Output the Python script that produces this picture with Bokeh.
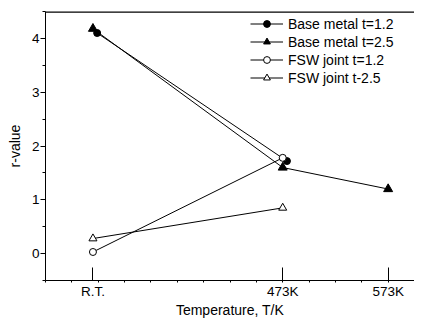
from bokeh.plotting import figure
from bokeh.models import FixedTicker, Span, Legend, LegendItem, Range1d
from bokeh.embed import file_html
from bokeh.resources import INLINE

# Data (temperature in K; R.T. taken as ~293 K)
x_ticks = [293, 473, 573]
x_tick_labels = ["R.T.", "473K", "573K"]

bm12_x = [297, 477]
bm12_y = [4.10, 1.72]

bm25_x = [293, 473, 573]
bm25_y = [4.18, 1.60, 1.20]

fsw12_x = [293, 473]
fsw12_y = [0.03, 1.78]

fsw25_x = [293, 473]
fsw25_y = [0.28, 0.85]

y_ticks = [0, 1, 2, 3, 4]
names = ["Base metal t=1.2", "Base metal t=2.5", "FSW joint t=1.2", "FSW joint t-2.5"]

FONT = "Liberation Sans"

p = figure(width=414, height=320, output_backend="svg", toolbar_location=None,
           x_range=Range1d(248, 598), y_range=Range1d(-0.5, 4.5),
           min_border_left=45, min_border_right=0, min_border_top=11, min_border_bottom=36)
p.outline_line_color = None
p.xgrid.visible = False
p.ygrid.visible = False
p.background_fill_color = "white"
p.border_fill_color = "white"

# x axis
xa = p.xaxis[0]
xa.ticker = FixedTicker(ticks=x_ticks, minor_ticks=[273 + 25 * k for k in range(-1, 14)])
xa.major_label_overrides = {t: l for t, l in zip(x_ticks, x_tick_labels)}
xa.major_tick_in = 13
xa.major_tick_out = 0
xa.minor_tick_in = 0
xa.minor_tick_out = 2
xa.major_label_standoff = 1
xa.axis_label = "Temperature, T/K"
xa.axis_label_standoff = 0
xa.axis_label_text_font = FONT
xa.axis_label_text_font_size = "14px"
xa.axis_label_text_font_style = "normal"
xa.major_label_text_font = FONT
xa.major_label_text_font_size = "13.5px"

# y axis
ya = p.yaxis[0]
ya.ticker = FixedTicker(ticks=y_ticks, minor_ticks=[-0.5, 0.5, 1.5, 2.5, 3.5, 4.5])
ya.major_tick_in = 0
ya.major_tick_out = 5
ya.minor_tick_in = 0
ya.minor_tick_out = 3
ya.major_label_standoff = 1
ya.axis_label = "r-value"
ya.axis_label_standoff = 6
ya.axis_label_text_font = FONT
ya.axis_label_text_font_size = "14px"
ya.axis_label_text_font_style = "normal"
ya.major_label_text_font = FONT
ya.major_label_text_font_size = "13.5px"

for ax in (xa, ya):
    ax.axis_line_color = "black"
    ax.major_tick_line_color = "black"
    ax.minor_tick_line_color = "black"
    ax.major_label_text_color = "black"
    ax.axis_label_text_color = "black"

# top frame line
p.add_layout(Span(location=4.5, dimension="width", line_color="black", line_width=2.5))

items = []
l1 = p.line(bm12_x, bm12_y, line_color="black", line_width=1)
s1 = p.scatter(bm12_x, bm12_y, marker="circle", size=7, fill_color="black", line_color="black")
l2 = p.line(bm25_x, bm25_y, line_color="black", line_width=1)
s2 = p.scatter(bm25_x, bm25_y, marker="triangle", size=9, fill_color="black", line_color="black")
l3 = p.line(fsw12_x, fsw12_y, line_color="black", line_width=1)
s3 = p.scatter(fsw12_x, fsw12_y, marker="circle", size=7, fill_color="white", line_color="black")
l4 = p.line(fsw25_x, fsw25_y, line_color="black", line_width=1)
s4 = p.scatter(fsw25_x, fsw25_y, marker="triangle", size=8, fill_color="white", line_color="black")

for n, rs in zip(names, [(l1, s1), (l2, s2), (l3, s3), (l4, s4)]):
    items.append(LegendItem(label=n, renderers=list(rs)))

legend = Legend(items=items, location="top_right", margin=4, padding=0,
                glyph_width=33, glyph_height=17, label_height=17, label_width=122,
                spacing=1, label_standoff=5,
                label_text_font=FONT, label_text_font_size="14px", label_text_color="black",
                border_line_color=None, background_fill_alpha=0)
p.add_layout(legend, "center")

open("out.html", "w").write(file_html(p, INLINE))
